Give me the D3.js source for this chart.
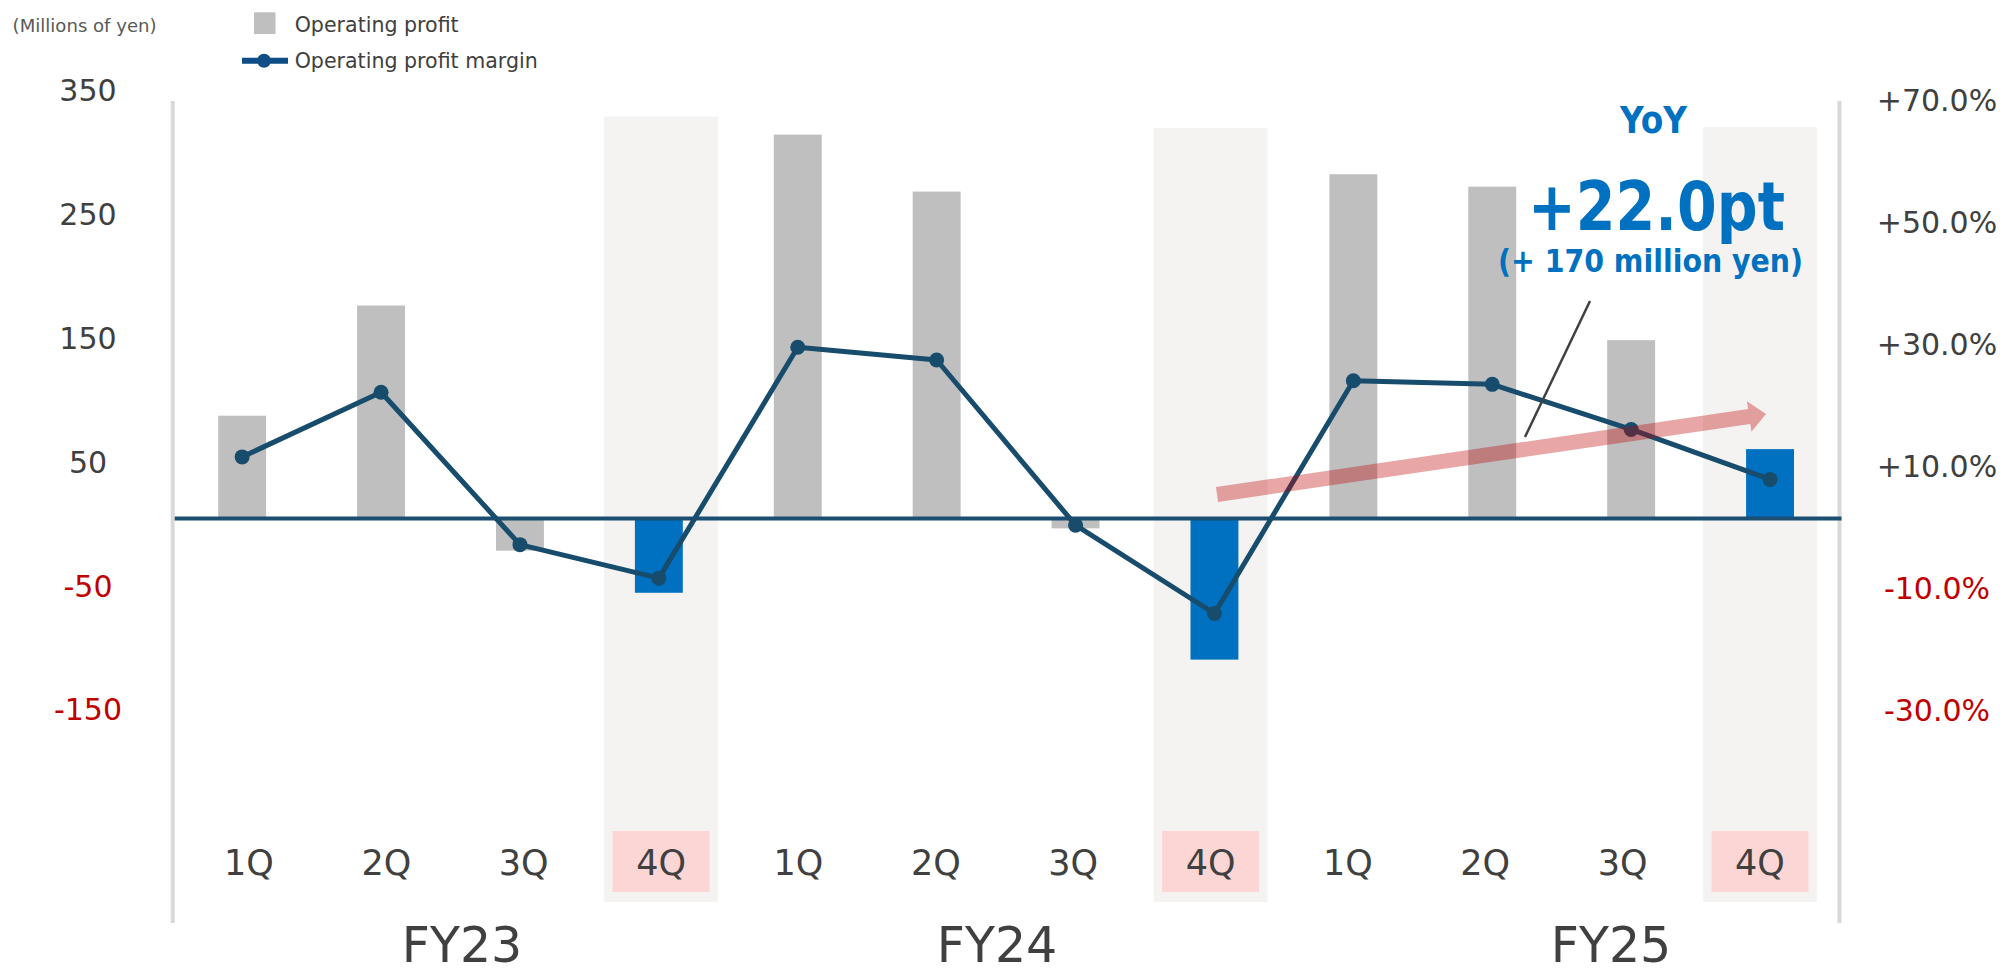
<!DOCTYPE html>
<html>
<head>
<meta charset="utf-8">
<script src="https://cdn.jsdelivr.net/npm/d3@7"></script>
<style>
  html, body { margin: 0; padding: 0; background: #ffffff; }
  svg { display: block; font-family: "DejaVu Sans", Verdana, sans-serif; }
</style>
</head>
<body>
<svg id="chart" width="2003" height="974"></svg>
<script>
// ---- Data -------------------------------------------------------------
const fiscalYears = ["FY23", "FY24", "FY25"];
const quarters = ["1Q", "2Q", "3Q", "4Q"];
// Operating profit (millions of yen), FY23 1Q .. FY25 4Q
const operatingProfit = [83, 172, -26, -60, 310, 264, -8, -114, 278, 268, 144, 56];
// Operating profit margin (%)
const operatingMargin = [10.6, 21.2, -3.8, -9.3, 28.6, 26.5, -0.6, -15.1, 23.1, 22.5, 15.1, 6.9];
const leftTicks = [350, 250, 150, 50, -50, -150];
const rightTicks = [70, 50, 30, 10, -10, -30];

// ---- Layout -----------------------------------------------------------
const W = 2003, H = 974;
const plotLeft = 172.7, plotRight = 1839.5;
const plotTop = 101, plotBottom = 923;
const bandTops = [116.5, 127.8, 127];     // highlight column tops per fiscal year
const bandBottom = 902;
const fyLabelX = [462, 997, 1611];

const svg = d3.select("#chart");

const categories = [];
fiscalYears.forEach(fy => quarters.forEach(q => categories.push({ fy, q })));
const idx = d3.range(categories.length);

// bar positions
const x = d3.scaleBand()
  .domain(idx)
  .range([plotLeft, plotRight])
  .paddingInner(0.655)
  .paddingOuter(0.3275);
const xc = i => x(i) + x.bandwidth() / 2;

// quarter label row
const xLabel = d3.scalePoint().domain(idx).range([249, 1760]);

const yL = d3.scaleLinear().domain([-150, 350]).range([704.2, 85.1]);
const yR = d3.scaleLinear().domain([-30, 70]).range([704.3, 94.9]);

const isQ4 = i => categories[i].q === "4Q";

// ---- Highlight columns for 4Q ------------------------------------------
const q4idx = idx.filter(isQ4);
svg.append("g").selectAll("rect")
  .data(q4idx)
  .join("rect")
  .attr("x", i => xLabel(i) - 57)
  .attr("width", 114)
  .attr("y", (i, k) => bandTops[k])
  .attr("height", (i, k) => bandBottom - bandTops[k])
  .attr("fill", "#F4F3F2");

svg.append("g").selectAll("rect")
  .data(q4idx)
  .join("rect")
  .attr("x", i => xLabel(i) - 48.5)
  .attr("width", 97)
  .attr("y", 831)
  .attr("height", 61)
  .attr("fill", "#FCD6D4");

// ---- Axis lines ---------------------------------------------------------
svg.append("g").selectAll("line")
  .data([plotLeft, plotRight])
  .join("line")
  .attr("x1", d => d).attr("x2", d => d)
  .attr("y1", plotTop).attr("y2", plotBottom)
  .attr("stroke", "#D9D9D9")
  .attr("stroke-width", 4);

// ---- Bars ---------------------------------------------------------------
svg.append("g").selectAll("rect")
  .data(operatingProfit)
  .join("rect")
  .attr("x", (d, i) => x(i))
  .attr("width", x.bandwidth())
  .attr("y", d => yL(Math.max(0, d)))
  .attr("height", d => Math.abs(yL(d) - yL(0)))
  .attr("fill", (d, i) => isQ4(i) ? "#0070C0" : "#BFBFBF");

// ---- Zero line ----------------------------------------------------------
svg.append("line")
  .attr("x1", plotLeft + 2).attr("x2", plotRight + 2)
  .attr("y1", yL(0)).attr("y2", yL(0))
  .attr("stroke", "#1B4E70")
  .attr("stroke-width", 4);

// ---- Margin line --------------------------------------------------------
const lineColor = "#174C6C";
svg.append("path")
  .datum(operatingMargin)
  .attr("d", d3.line().x((d, i) => xc(i)).y(d => yR(d)))
  .attr("fill", "none")
  .attr("stroke", lineColor)
  .attr("stroke-width", 5)
  .attr("stroke-linejoin", "round");

svg.append("g").selectAll("circle")
  .data(operatingMargin)
  .join("circle")
  .attr("cx", (d, i) => xc(i))
  .attr("cy", d => yR(d))
  .attr("r", 7.5)
  .attr("fill", lineColor);

// ---- Trend arrow --------------------------------------------------------
(function drawArrow() {
  const sx = 1217, sy = 494.5, tx = 1766, ty = 414;
  const dx = tx - sx, dy = ty - sy, len = Math.hypot(dx, dy);
  const ux = dx / len, uy = dy / len, nx = -uy, ny = ux;
  const shaftHalf = 7.5, headHalf = 15.5, headLen = 17;
  const bx = tx - ux * headLen, by = ty - uy * headLen;
  const pts = [
    [sx + nx * shaftHalf, sy + ny * shaftHalf],
    [bx + nx * shaftHalf, by + ny * shaftHalf],
    [bx + nx * headHalf, by + ny * headHalf],
    [tx, ty],
    [bx - nx * headHalf, by - ny * headHalf],
    [bx - nx * shaftHalf, by - ny * shaftHalf],
    [sx - nx * shaftHalf, sy - ny * shaftHalf]
  ];
  svg.append("polygon")
    .attr("points", pts.map(p => p.join(",")).join(" "))
    .attr("fill", "#C00000")
    .attr("fill-opacity", 0.35);
})();

// ---- Callout ------------------------------------------------------------
svg.append("line")
  .attr("x1", 1590).attr("y1", 301)
  .attr("x2", 1525).attr("y2", 437)
  .attr("stroke", "#404040")
  .attr("stroke-width", 2.5);

const last = operatingMargin.length - 1;
const prevYear = last - quarters.length;
const ptDiff = operatingMargin[last] - operatingMargin[prevYear];
const profitDiff = operatingProfit[last] - operatingProfit[prevYear];
const signed = v => (v >= 0 ? "+" : "-");

const blue = "#0070C0";
svg.append("text")
  .attr("x", 1620).attr("y", 133)
  .attr("textLength", 67).attr("lengthAdjust", "spacingAndGlyphs")
  .attr("font-size", 37).attr("font-weight", "bold")
  .attr("fill", blue)
  .text("YoY");

svg.append("text")
  .attr("x", 1528).attr("y", 230)
  .attr("textLength", 257).attr("lengthAdjust", "spacingAndGlyphs")
  .attr("font-size", 68).attr("font-weight", "bold")
  .attr("fill", blue)
  .text(signed(ptDiff) + Math.abs(ptDiff).toFixed(1) + "pt");

svg.append("text")
  .attr("x", 1498).attr("y", 272)
  .attr("textLength", 305).attr("lengthAdjust", "spacingAndGlyphs")
  .attr("font-size", 32).attr("font-weight", "bold")
  .attr("fill", blue)
  .text("(" + signed(profitDiff) + " " + Math.abs(profitDiff) + " million yen)");

// ---- Tick labels --------------------------------------------------------
const tickColor = v => v < 0 ? "#C00000" : "#404040";
svg.append("g").selectAll("text")
  .data(leftTicks)
  .join("text")
  .attr("x", 88)
  .attr("y", d => yL(d) + 16.2)
  .attr("text-anchor", "middle")
  .attr("font-size", 30)
  .attr("fill", tickColor)
  .text(d => (d < 0 ? "-" : "") + Math.abs(d));

svg.append("g").selectAll("text")
  .data(rightTicks)
  .join("text")
  .attr("x", 1937)
  .attr("y", d => yR(d) + 16.2)
  .attr("text-anchor", "middle")
  .attr("font-size", 30)
  .attr("fill", tickColor)
  .text(d => (d > 0 ? "+" : "-") + Math.abs(d).toFixed(1) + "%");

// ---- Category labels ----------------------------------------------------
svg.append("g").selectAll("text")
  .data(categories)
  .join("text")
  .attr("x", (d, i) => xLabel(i))
  .attr("y", 875)
  .attr("text-anchor", "middle")
  .attr("font-size", 35)
  .attr("fill", "#404040")
  .text(d => d.q);

svg.append("g").selectAll("text")
  .data(fiscalYears)
  .join("text")
  .attr("x", (d, i) => fyLabelX[i])
  .attr("y", 962)
  .attr("text-anchor", "middle")
  .attr("font-size", 49)
  .attr("fill", "#404040")
  .text(d => d);

// ---- Legend & unit ------------------------------------------------------
svg.append("text")
  .attr("x", 12.6).attr("y", 31.5)
  .attr("textLength", 144).attr("lengthAdjust", "spacingAndGlyphs")
  .attr("font-size", 18)
  .attr("fill", "#595959")
  .text("(Millions of yen)");

svg.append("rect")
  .attr("x", 254).attr("y", 12.3)
  .attr("width", 21.5).attr("height", 21.7)
  .attr("fill", "#BFBFBF");
svg.append("text")
  .attr("x", 294.7).attr("y", 32.3)
  .attr("textLength", 164).attr("lengthAdjust", "spacingAndGlyphs")
  .attr("font-size", 20.5)
  .attr("fill", "#404040")
  .text("Operating profit");

svg.append("line")
  .attr("x1", 242).attr("x2", 288)
  .attr("y1", 60.7).attr("y2", 60.7)
  .attr("stroke", "#0F4D87")
  .attr("stroke-width", 6);
svg.append("circle")
  .attr("cx", 264).attr("cy", 60.7).attr("r", 7)
  .attr("fill", "#0F4D87");
svg.append("text")
  .attr("x", 294.7).attr("y", 68.3)
  .attr("textLength", 243).attr("lengthAdjust", "spacingAndGlyphs")
  .attr("font-size", 20.5)
  .attr("fill", "#404040")
  .text("Operating profit margin");
</script>
</body>
</html>
